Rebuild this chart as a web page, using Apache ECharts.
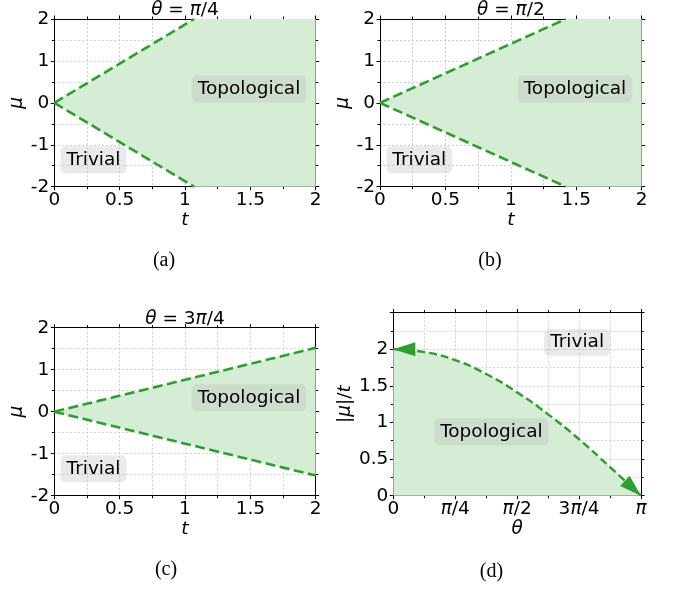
<!DOCTYPE html>
<html><head><meta charset="utf-8">
<script src="https://cdn.jsdelivr.net/npm/echarts@6/dist/echarts.min.js"></script>
<style>html,body{margin:0;padding:0;background:#fff}#c{width:678px;height:589px}</style>
</head><body><div id="c"></div>
<script>
// ---- data ----
// panels (a)-(c): boundary lines mu = ±k t
const aUpper = [[0, 0], [1.07, 2]];
const aLower = [[0, 0], [1.07, -2]];
const aFill  = [[0, 0], [1.07, 2], [2, 2], [2, -2], [1.07, -2]];
const bUpper = [[0, 0], [1.42, 2]];
const bLower = [[0, 0], [1.42, -2]];
const bFill  = [[0, 0], [1.42, 2], [2, 2], [2, -2], [1.42, -2]];
const cUpper = [[0, 0], [2, 1.52]];
const cLower = [[0, 0], [2, -1.52]];
const cFill  = [[0, 0], [2, 1.52], [2, -1.52]];
const panelTitles = ['θ = π/4', 'θ = π/2', 'θ = 3π/4'];
const captions = ['(a)', '(b)', '(c)', '(d)'];
const topoPos = [1.49, 0.33];
const trivPos = [0.30, -1.36];
// panel (d): phase boundary |mu|/t vs theta (theta in units of pi)
const dTheta = [0, 0.125, 0.25, 0.375, 0.5, 0.625, 0.75, 0.875, 1];
const dRatio = [2, 1.96, 1.85, 1.66, 1.41, 1.11, 0.77, 0.39, 0];
// arrow heads: [tipX, tipY, towardX, towardY]
const dArrows = [[0, 2, 0.1, 2], [1, 0, 0.96, 0.125]];
const dTopoPos = [0.396, 0.873];
const dTrivPos = [0.742, 2.09];
const thetaTickLabels = {0: '0', 0.25: '{i|π}/4', 0.5: '{i|π}/2', 0.75: '3{i|π}/4', 1: '{i|π}'};

// ---- styling ----
const FONT = 'DejaVu Sans';
const GREEN = '#2ca02c';
const FILL = '#d5ecd5';
const GRIDC = '#c4c4c4';
const BOXBG = 'rgba(190,190,190,0.32)';
const FS = 18.5;

const grids = [
  {left: 54.3, top: 19, width: 261.4, height: 167.7},
  {left: 380, top: 19, width: 261.7, height: 167.7},
  {left: 54.3, top: 327.7, width: 261.4, height: 168},
  {left: 393.3, top: 312.5, width: 247.7, height: 183.2}
];

const gridLine = {show: true, lineStyle: {color: GRIDC, type: [2, 2], width: 0.8}};
const italic = {fontStyle: 'italic', fontFamily: FONT, fontSize: FS, color: '#000'};

function xAxes(gi, min, max, interval, labelOpt, name, nameGap) {
  const base = {
    type: 'value', gridIndex: gi, min: min, max: max, interval: interval,
    axisLine: {show: true, onZero: false, lineStyle: {color: '#000', width: 1}},
    axisTick: {show: true, length: 3.5, lineStyle: {color: '#000'}},
    minorTick: {show: true, splitNumber: 2, length: 2.5, lineStyle: {color: '#000'}}
  };
  return [
    Object.assign({}, base, {
      position: 'bottom',
      splitLine: gridLine, minorSplitLine: gridLine,
      axisLabel: Object.assign({fontFamily: FONT, fontSize: FS, color: '#000', margin: 4}, labelOpt || {}),
      name: name, nameLocation: 'middle', nameGap: nameGap,
      nameTextStyle: italic
    }),
    Object.assign({}, base, {
      position: 'top', splitLine: {show: false}, minorSplitLine: {show: false},
      axisLabel: {show: false}
    })
  ];
}
function yAxes(gi, min, max, interval, labelOpt, name, nameGap, nameStyle) {
  const base = {
    type: 'value', gridIndex: gi, min: min, max: max, interval: interval,
    axisLine: {show: true, onZero: false, lineStyle: {color: '#000', width: 1}},
    axisTick: {show: true, length: 3.5, lineStyle: {color: '#000'}},
    minorTick: {show: true, splitNumber: 2, length: 2.5, lineStyle: {color: '#000'}}
  };
  return [
    Object.assign({}, base, {
      position: 'left',
      splitLine: gridLine, minorSplitLine: gridLine,
      axisLabel: Object.assign({fontFamily: FONT, fontSize: FS, color: '#000', margin: 5}, labelOpt || {}),
      name: name, nameLocation: 'middle', nameGap: nameGap,
      nameTextStyle: nameStyle
    }),
    Object.assign({}, base, {
      position: 'right', splitLine: {show: false}, minorSplitLine: {show: false},
      axisLabel: {show: false}
    })
  ];
}

const xAxis = [], yAxis = [], series = [], graphic = [];
const uppers = [aUpper, bUpper, cUpper], lowers = [aLower, bLower, cLower], fills = [aFill, bFill, cFill];

function textBox(txt) {
  return {
    show: true, position: 'inside', formatter: txt,
    fontFamily: FONT, fontSize: FS, color: '#000', opacity: 1,
    backgroundColor: BOXBG, padding: [5, 6, 3, 6], borderRadius: 5
  };
}

for (let i = 0; i < 3; i++) {
  xAxis.push(...xAxes(i, 0, 2, 0.5, null, 't', 21));
  yAxis.push(...yAxes(i, -2, 2, 1, null, 'μ', 25, italic));
  const xi = 2 * i;
  const poly = fills[i];
  series.push({
    type: 'custom', xAxisIndex: xi, yAxisIndex: xi, silent: true, z: 1,
    data: [[0, 0]],
    renderItem: function (params, api) {
      return {type: 'polygon', shape: {points: poly.map(p => api.coord(p))}, style: {fill: FILL}};
    }
  });
  [uppers[i], lowers[i]].forEach(d => series.push({
    type: 'line', xAxisIndex: xi, yAxisIndex: xi, data: d, symbol: 'none', z: 3,
    lineStyle: {color: GREEN, width: 2.6, type: [10, 4.5]}
  }));
  series.push({
    type: 'scatter', xAxisIndex: xi, yAxisIndex: xi, symbolSize: 1, z: 5, silent: true,
    itemStyle: {color: 'rgba(0,0,0,0)'},
    data: [{value: topoPos, label: textBox('Topological')}, {value: trivPos, label: textBox('Trivial')}]
  });
  const g = grids[i];
  graphic.push({
    type: 'text', x: g.left + g.width / 2, y: g.top - 9,
    style: {
      text: panelTitles[i].replace(/θ/g, '{i|θ}').replace(/π/g, '{i|π}'),
      fontFamily: FONT, fontSize: FS, fill: '#000', align: 'center', verticalAlign: 'middle',
      rich: {i: {fontStyle: 'italic', fontFamily: FONT, fontSize: FS}}
    }
  });
}

// panel (d)
xAxis.push(...xAxes(3, 0, 1, 0.25, {
  formatter: v => thetaTickLabels[v] !== undefined ? thetaTickLabels[v] : '',
  rich: {i: {fontStyle: 'italic', fontFamily: FONT, fontSize: FS, color: '#000'}}
}, 'θ', 24));
yAxis.push(...yAxes(3, 0, 2.5, 0.5, {
  formatter: v => (v > 2.25 ? '' : String(v))
}, '{n||}{i|μ}{n||/}{i|t}', 37, {
  fontFamily: FONT, fontSize: FS, color: '#000',
  rich: {i: {fontStyle: 'italic', fontFamily: FONT, fontSize: FS, color: '#000'},
         n: {fontFamily: FONT, fontSize: FS, color: '#000'}}
}));
series.push({
  type: 'line', xAxisIndex: 6, yAxisIndex: 6, symbol: 'none', smooth: true, z: 3,
  data: dTheta.map((t, k) => [t, dRatio[k]]),
  lineStyle: {color: GREEN, width: 2.4, type: [8, 4]},
  areaStyle: {color: FILL, opacity: 1}
});
series.push({
  type: 'custom', xAxisIndex: 6, yAxisIndex: 6, silent: true, z: 4,
  data: dArrows,
  renderItem: function (params, api) {
    const tip = api.coord([api.value(0), api.value(1)]);
    const tw = api.coord([api.value(2), api.value(3)]);
    let dx = tw[0] - tip[0], dy = tw[1] - tip[1];
    const len = Math.hypot(dx, dy); dx /= len; dy /= len;
    const L = 22, W = 14;
    const bx = tip[0] + dx * L, by = tip[1] + dy * L;
    const nx = -dy, ny = dx;
    return {
      type: 'polygon',
      shape: {points: [tip, [bx + nx * W / 2, by + ny * W / 2], [bx - nx * W / 2, by - ny * W / 2]]},
      style: {fill: GREEN}
    };
  }
});
series.push({
  type: 'scatter', xAxisIndex: 6, yAxisIndex: 6, symbolSize: 1, z: 5, silent: true,
  itemStyle: {color: 'rgba(0,0,0,0)'},
  data: [{value: dTopoPos, label: textBox('Topological')}, {value: dTrivPos, label: textBox('Trivial')}]
});

const capPos = [[164, 261], [490, 261], [166, 570], [491.5, 571.5]];
captions.forEach((c, k) => graphic.push({
  type: 'text', x: capPos[k][0], y: capPos[k][1],
  style: {text: c, fontFamily: 'Liberation Serif', fontSize: 20, fill: '#000', align: 'center', verticalAlign: 'middle'}
}));

const chart = echarts.init(document.getElementById('c'), null, {renderer: 'canvas'});
chart.setOption({
  animation: false,
  backgroundColor: '#fff',
  grid: grids,
  xAxis: xAxis,
  yAxis: yAxis,
  series: series,
  graphic: graphic
});
</script>
</body></html>
